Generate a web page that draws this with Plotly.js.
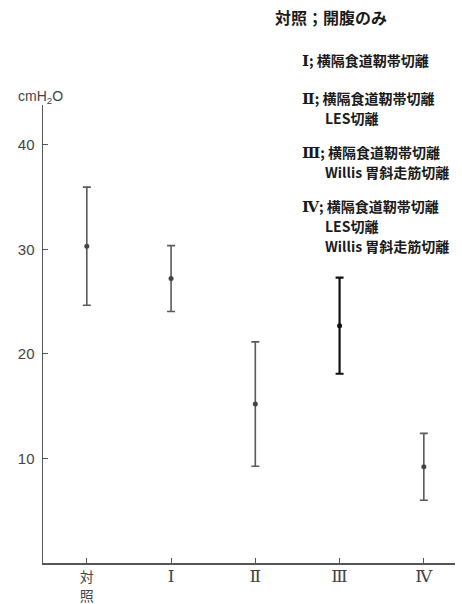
<!DOCTYPE html>
<html><head><meta charset="utf-8">
<script src="https://cdn.plot.ly/plotly-3.0.1.min.js"></script>
<style>html,body{margin:0;padding:0;background:#fff;}#chart{width:462px;height:604px;}</style>
</head><body><div id="chart"></div>
<script>
const categories = ["対照", "I", "II", "III", "IV"];
const tickLabels = ["対<br>照", "Ⅰ", "Ⅱ", "Ⅲ", "Ⅳ"];
const means = [30.3, 27.2, 15.2, 22.7, 9.2];
const errors = [5.65, 3.15, 5.95, 4.6, 3.2];
const yTicks = [10, 20, 30, 40];
const legendNumerals = ["", "Ⅰ", "Ⅱ", "", "Ⅲ", "", "Ⅳ", "", ""];
const legendLines = [
  "対照；開腹のみ",
  "; 横隔食道靭帯切離",
  "; 横隔食道靭帯切離",
  "LES切離",
  "; 横隔食道靭帯切離",
  "Willis 胃斜走筋切離",
  "; 横隔食道靭帯切離",
  "LES切離",
  "Willis 胃斜走筋切離"
];

const W = 462, H = 604, L = 43, R = 7, T = 105, B = 41;
const pw = W - L - R, ph = H - T - B;
const px = x => (x - L) / pw;
const py = y => (H - B - y) / ph;
const serif = (s, sz) => '<span style="font-family:\'DejaVu Serif\';' + (sz ? 'font-size:' + sz + 'px;' : '') + '">' + s + '</span>';

const grayIdx = [0, 1, 2, 4];
const traces = [
  {
    type: "scatter", mode: "markers",
    x: grayIdx.map(i => categories[i]),
    y: grayIdx.map(i => means[i]),
    error_y: {type: "data", array: grayIdx.map(i => errors[i]), visible: true, color: "#5a5a5a", thickness: 1.6, width: 4},
    marker: {color: "#444", size: 5},
    hoverinfo: "skip"
  },
  {
    type: "scatter", mode: "markers",
    x: [categories[3]], y: [means[3]],
    error_y: {type: "data", array: [errors[3]], visible: true, color: "#111", thickness: 2.2, width: 4},
    marker: {color: "#111", size: 5},
    hoverinfo: "skip"
  }
];

const legPos = [
  [273, 17, 16], [300, 60, 14], [300, 98, 14], [323, 118, 14],
  [300, 152, 14], [323, 172, 14], [300, 206, 14], [323, 226, 14], [323, 246, 14]
];
const annotations = legendLines.map((t, i) => ({
  text: (legendNumerals[i] ? "<b>" + serif(legendNumerals[i], 15) + "</b>" : "") + t,
  xref: "paper", yref: "paper",
  x: px(legPos[i][0]), y: py(legPos[i][1]), xanchor: "left", yanchor: "middle",
  showarrow: false, font: {family: "Noto Sans CJK JP", size: legPos[i][2], color: "#1a1a1a", weight: 600}
}));
annotations.push({
  text: "cmH<sub>2</sub>O", xref: "paper", yref: "paper",
  x: px(40), y: py(97), xanchor: "center", yanchor: "middle", showarrow: false,
  font: {family: "Liberation Sans, Arial", size: 14, color: "#444"}
});

const layout = {
  width: W, height: H,
  margin: {l: L, r: R, t: T, b: B, pad: 0},
  paper_bgcolor: "#fff", plot_bgcolor: "#fff",
  showlegend: false,
  xaxis: {
    type: "category", categoryorder: "array", categoryarray: categories,
    tickvals: categories,
    ticktext: tickLabels.map((t, i) => i === 0 ? t : serif(t, 17)),
    range: [-0.52, 4.37], showgrid: false, zeroline: false,
    showline: true, linecolor: "#555", linewidth: 1.5,
    ticks: "inside", ticklen: 5, tickcolor: "#555", tickwidth: 1,
    ticklabelstandoff: 1,
    tickfont: {family: "Noto Sans CJK JP", size: 14, color: "#444"}
  },
  yaxis: {
    range: [0, 43.8], tickvals: yTicks, showgrid: false, zeroline: false,
    showline: true, linecolor: "#555", linewidth: 1.5,
    ticks: "inside", ticklen: 5, tickcolor: "#555", tickwidth: 1,
    ticklabelstandoff: 4,
    tickfont: {family: "Liberation Sans, Arial", size: 15, color: "#444"}
  },
  annotations: annotations
};

Plotly.newPlot("chart", traces, layout, {staticPlot: true, displayModeBar: false});
</script>
</body></html>
